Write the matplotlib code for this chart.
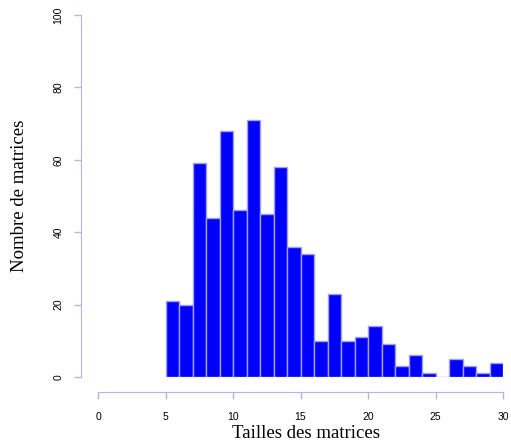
from matplotlib import pyplot as plt
import numpy as np

# tailles (bord gauche des classes) et effectifs
tailles = np.arange(5, 30)
effectifs = [21, 20, 59, 44, 68, 46, 71, 45, 58, 36, 34, 10, 23, 10, 11,
             14, 9, 3, 6, 1, 0, 5, 3, 1, 4]
xticks = [0, 5, 10, 15, 20, 25, 30]
yticks = [0, 20, 40, 60, 80, 100]

axe_col = '#b4b4e6'

fig = plt.figure(figsize=(5.11, 4.42), dpi=100)
ax = fig.add_axes([98 / 511, 65 / 442, 405 / 511, 362 / 442])

ax.bar(tailles, effectifs, width=1, align='edge', color='#0000ff',
       edgecolor='#a0a0f0', linewidth=1)

ax.set_xlim(0, 30)
ax.set_ylim(0, 100)

for s in ['top', 'right']:
    ax.spines[s].set_visible(False)
ax.spines['left'].set_position(('outward', 12))
ax.spines['bottom'].set_position(('outward', 11))
ax.spines['left'].set_bounds(0, 100)
ax.spines['bottom'].set_bounds(0, 30)
for s in ['left', 'bottom']:
    ax.spines[s].set_color(axe_col)

ax.set_xticks(xticks)
ax.set_yticks(yticks)
ax.tick_params(colors=axe_col, labelcolor='black', length=5, width=1,
               labelsize=7.5)
ax.tick_params(axis='x', pad=9.5)
ax.tick_params(axis='y', pad=8)
for lab in ax.get_yticklabels():
    lab.set_rotation(90)
    lab.set_va('center')
for lab in ax.get_xticklabels() + ax.get_yticklabels():
    lab.set_family('Liberation Sans')

ax.set_xlabel('Tailles des matrices', family='Liberation Serif', fontsize=13.5,
              labelpad=1.5)
ax.xaxis.label.set_x(0.513)
ax.set_ylabel('Nombre de matrices', family='Liberation Serif', fontsize=13.5,
              labelpad=18.5)

fig.savefig('out.png', dpi=100)
